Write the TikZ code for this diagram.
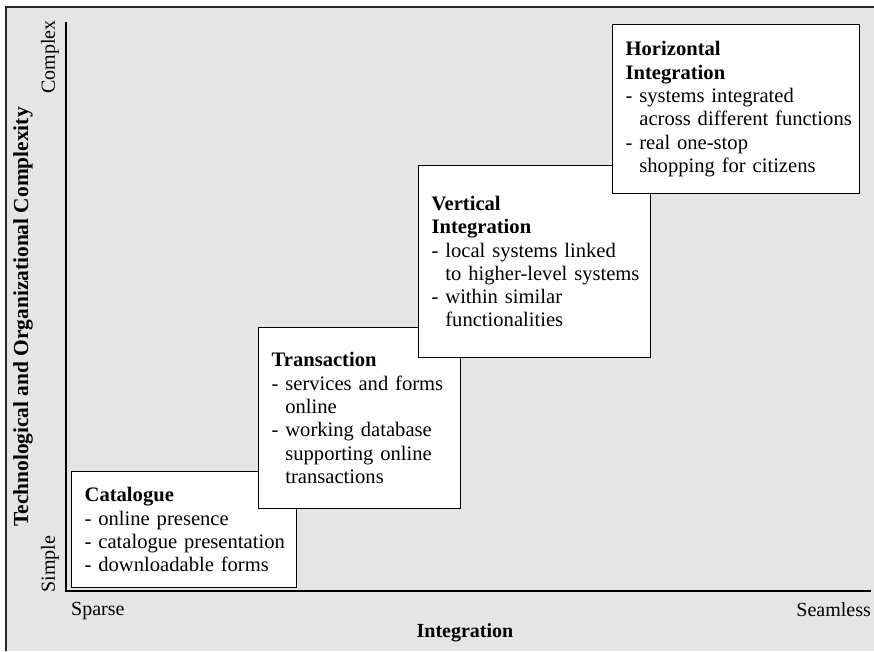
\documentclass[tikz,border=0pt]{standalone}
\usepackage{fontspec}
\setmainfont{Liberation Serif}
\definecolor{panel}{RGB}{229,229,229}
\begin{document}
\begin{tikzpicture}[x=1pt,y=-1pt]
            \tikzstyle{every node} = [font=\fontsize{20}{23.3}\selectfont]
            \tikzstyle{stage} = [draw, line width=1.3pt, fill=white, anchor=north west, align=left, inner xsep=13pt, inner ysep=0pt, font=\fontsize{20.6}{23.3}\selectfont]
            \tikzstyle{ann} = [inner sep=0pt]
            \useasboundingbox (0,0) rectangle (874,651);
            \fill[white] (0,0) rectangle (874,651);
            \fill[panel] (6,7) rectangle (874,651);
            \draw[line width=1.3pt, black!85] (6,651) -- (6,7) -- (874,7);
            % axes
            \coordinate (ytop) at (66,22);
            \coordinate (origin) at (66,591);
            \coordinate (xend) at (871,591);
            \draw[line width=1.3pt] (ytop) -- (origin) -- (xend);
            \node[ann, rotate=90] (complex) at (50,57) {Complex};
            \node[ann, rotate=90] (simple) at (50,564) {Simple};
            \node[ann, rotate=90, font=\fontsize{21.4}{23.3}\selectfont\bfseries] (ylab) at (23,317) {Technological and Organizational Complexity};
            \node[ann, anchor=west] (sparse) at (71,611) {Sparse};
            \node[ann, anchor=east] (seamless) at (871,610) {Seamless};
            \node[ann, font=\fontsize{20}{23.3}\selectfont\bfseries] (xlab) at (465,633) {Integration};
            % stages
            \node[stage, text width=199pt, minimum height=116pt] (cat) at (71,471)
                {\textbf{Catalogue}\\\mbox{- online presence}\\\mbox{- catalogue presentation}\\\mbox{- downloadable forms}};
            \node[stage, text width=176pt, minimum height=181pt] (trans) at (258,327)
                {\textbf{Transaction}\\\mbox{- services and forms}\\\hphantom{- }online\\\mbox{- working database}\\\hphantom{- }\mbox{supporting online}\\\hphantom{- }transactions};
            \node[stage, text width=206pt, minimum height=192pt] (vert) at (418,165)
                {\textbf{Vertical}\\\textbf{Integration}\\\mbox{- local systems linked}\\\hphantom{- }\mbox{to higher-level systems}\\\mbox{- within similar}\\\hphantom{- }functionalities};
            \node[stage, text width=221pt, minimum height=169pt] (horiz) at (612,24)
                {\textbf{Horizontal}\\\textbf{Integration}\\\mbox{- systems integrated}\\\hphantom{- }\mbox{across different functions}\\\mbox{- real one-stop}\\\hphantom{- }\mbox{shopping for citizens}};
        \end{tikzpicture}
\end{document}
